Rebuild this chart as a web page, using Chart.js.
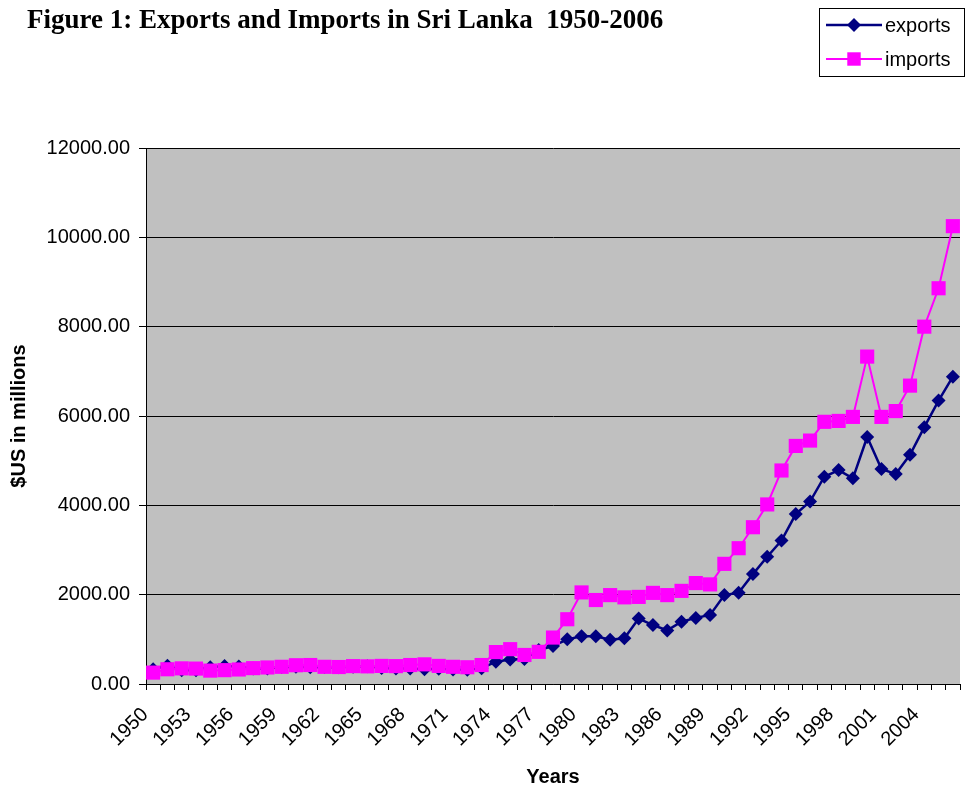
<!DOCTYPE html>
<html>
<head>
<meta charset="utf-8">
<script src="https://cdn.jsdelivr.net/npm/chart.js@4.4.0/dist/chart.umd.min.js"></script>
<style>
  html, body { margin: 0; padding: 0; background: #fff; }
  canvas { display: block; }
</style>
</head>
<body>
<canvas id="chart" width="966" height="789"></canvas>
<script>
// Colours taken from the Excel-style figure
const navy = "#000080";
const magenta = "#ff00ff";
const plotGray = "#c0c0c0";

const chartTitle = "Figure 1: Exports and Imports in Sri Lanka  1950-2006";

const years = [
  '1950','1951','1952','1953','1954','1955','1956','1957','1958','1959',
  '1960','1961','1962','1963','1964','1965','1966','1967','1968','1969',
  '1970','1971','1972','1973','1974','1975','1976','1977','1978','1979',
  '1980','1981','1982','1983','1984','1985','1986','1987','1988','1989',
  '1990','1991','1992','1993','1994','1995','1996','1997','1998','1999',
  '2000','2001','2002','2003','2004','2005','2006'
];

// only every third year gets a label on the x axis
const tickYears = ['1950','1953','1956','1959','1962','1965','1968','1971','1974',
  '1977','1980','1983','1986','1989','1992','1995','1998','2001','2004'];

// $US millions
const exportsData = [
  330, 410, 310, 310, 375, 405, 390, 345, 345, 380,
  385, 375, 380, 375, 385, 400, 360, 345, 345, 330,
  340, 325, 320, 350, 500, 550, 560, 760, 850, 1000,
  1070, 1070, 990, 1025, 1465, 1320, 1200, 1395, 1480, 1545,
  1990, 2045, 2460, 2850, 3210, 3805, 4085, 4640, 4790, 4605,
  5530, 4815, 4700, 5130, 5750, 6345, 6880
];

const importsData = [
  255, 330, 350, 345, 300, 310, 325, 355, 370, 385,
  420, 425, 385, 380, 400, 395, 405, 400, 425, 440,
  405, 385, 375, 425, 715, 780, 650, 720, 1040, 1450,
  2050, 1880, 1990, 1940, 1950, 2040, 1990, 2085, 2260, 2230,
  2690, 3040, 3510, 4020, 4780, 5330, 5450, 5870, 5890, 5980,
  7330, 5980, 6110, 6680, 8000, 8860, 10250
];

const yMax = 12000;
const yStep = 2000;

function drawMarker(ctx, style, x, y, r, color) {
  ctx.fillStyle = color;
  ctx.beginPath();
  if (style === 'rectRot') {
    ctx.moveTo(x, y - r); ctx.lineTo(x + r, y); ctx.lineTo(x, y + r); ctx.lineTo(x - r, y);
  } else {
    const s = r * Math.SQRT1_2;
    ctx.rect(x - s, y - s, 2 * s, 2 * s);
  }
  ctx.closePath();
  ctx.fill();
}

// gray plot area, title and boxed legend like the original figure
const figureDecor = {
  id: 'figureDecor',
  beforeDraw(chart) {
    const { ctx, chartArea: a } = chart;
    ctx.save();
    ctx.fillStyle = plotGray;
    ctx.fillRect(a.left, a.top, a.right - a.left, a.bottom - a.top);
    ctx.restore();
  },
  afterDraw(chart) {
    const ctx = chart.ctx;
    ctx.save();
    ctx.fillStyle = '#000';
    ctx.font = 'bold 27px "Liberation Serif"';
    ctx.textBaseline = 'alphabetic';
    ctx.fillText(chartTitle, 27, 28);

    ctx.strokeStyle = '#000';
    ctx.lineWidth = 1;
    ctx.strokeRect(819.5, 8.5, 145, 68);

    ctx.font = '20px "Liberation Sans"';
    ctx.textBaseline = 'middle';
    const order = [1, 0]; // exports then imports
    order.forEach((idx, i) => {
      const ds = chart.data.datasets[idx];
      const y = 25 + i * 34;
      ctx.strokeStyle = ds.borderColor;
      ctx.lineWidth = ds.borderWidth;
      ctx.beginPath(); ctx.moveTo(826, y); ctx.lineTo(882, y); ctx.stroke();
      drawMarker(ctx, ds.pointStyle, 854, y, ds.pointStyle === 'rect' ? 9.5 : 7, ds.borderColor);
      ctx.fillStyle = '#000';
      ctx.fillText(ds.label, 885, y + 1);
    });
    ctx.restore();
  }
};

new Chart(document.getElementById('chart'), {
  type: 'line',
  data: {
    labels: years,
    datasets: [
      {
        label: 'imports',
        data: importsData,
        borderColor: magenta,
        backgroundColor: magenta,
        borderWidth: 2,
        pointStyle: 'rect',
        pointRadius: 10,
        pointBorderWidth: 0,
        tension: 0,
        order: 0
      },
      {
        label: 'exports',
        data: exportsData,
        borderColor: navy,
        backgroundColor: navy,
        borderWidth: 2.5,
        pointStyle: 'rectRot',
        pointRadius: 7,
        pointBorderWidth: 0,
        tension: 0,
        order: 1
      }
    ]
  },
  options: {
    responsive: false,
    animation: false,
    events: [],
    layout: { autoPadding: false, padding: { top: 148, left: 7, right: 6, bottom: 0 } },
    plugins: {
      legend: { display: false },
      title: { display: false },
      tooltip: { enabled: false }
    },
    scales: {
      x: {
        type: 'category',
        offset: true,
        afterFit: (scale) => { scale.height = 105; scale.paddingRight = 0; },
        grid: { offset: true, drawOnChartArea: false, tickLength: 6, color: '#000' },
        border: { display: true, color: '#000', width: 1 },
        ticks: {
          autoSkip: false,
          minRotation: 45,
          maxRotation: 45,
          padding: 13,
          labelOffset: -8,
          color: '#000',
          font: { family: 'Liberation Sans', size: 20 },
          callback: function (v) {
            const lab = this.getLabelForValue(v);
            return tickYears.includes(lab) ? lab : '';
          }
        },
        title: {
          display: true,
          text: 'Years',
          color: '#000',
          font: { family: 'Liberation Sans', size: 20, weight: 'bold' },
          padding: { top: 4, bottom: 0 }
        }
      },
      y: {
        min: 0,
        max: yMax,
        afterFit: (scale) => { scale.width = 139; },
        grid: { color: '#000', lineWidth: 1, tickLength: 7 },
        border: { display: true, color: '#000', width: 1 },
        ticks: {
          stepSize: yStep,
          padding: 9,
          color: '#000',
          font: { family: 'Liberation Sans', size: 20 },
          callback: (v) => Number(v).toFixed(2)
        },
        title: {
          display: true,
          text: '$US in millions',
          color: '#000',
          font: { family: 'Liberation Sans', size: 20, weight: 'bold' },
          padding: 0
        }
      }
    }
  },
  plugins: [figureDecor]
});
</script>
</body>
</html>
